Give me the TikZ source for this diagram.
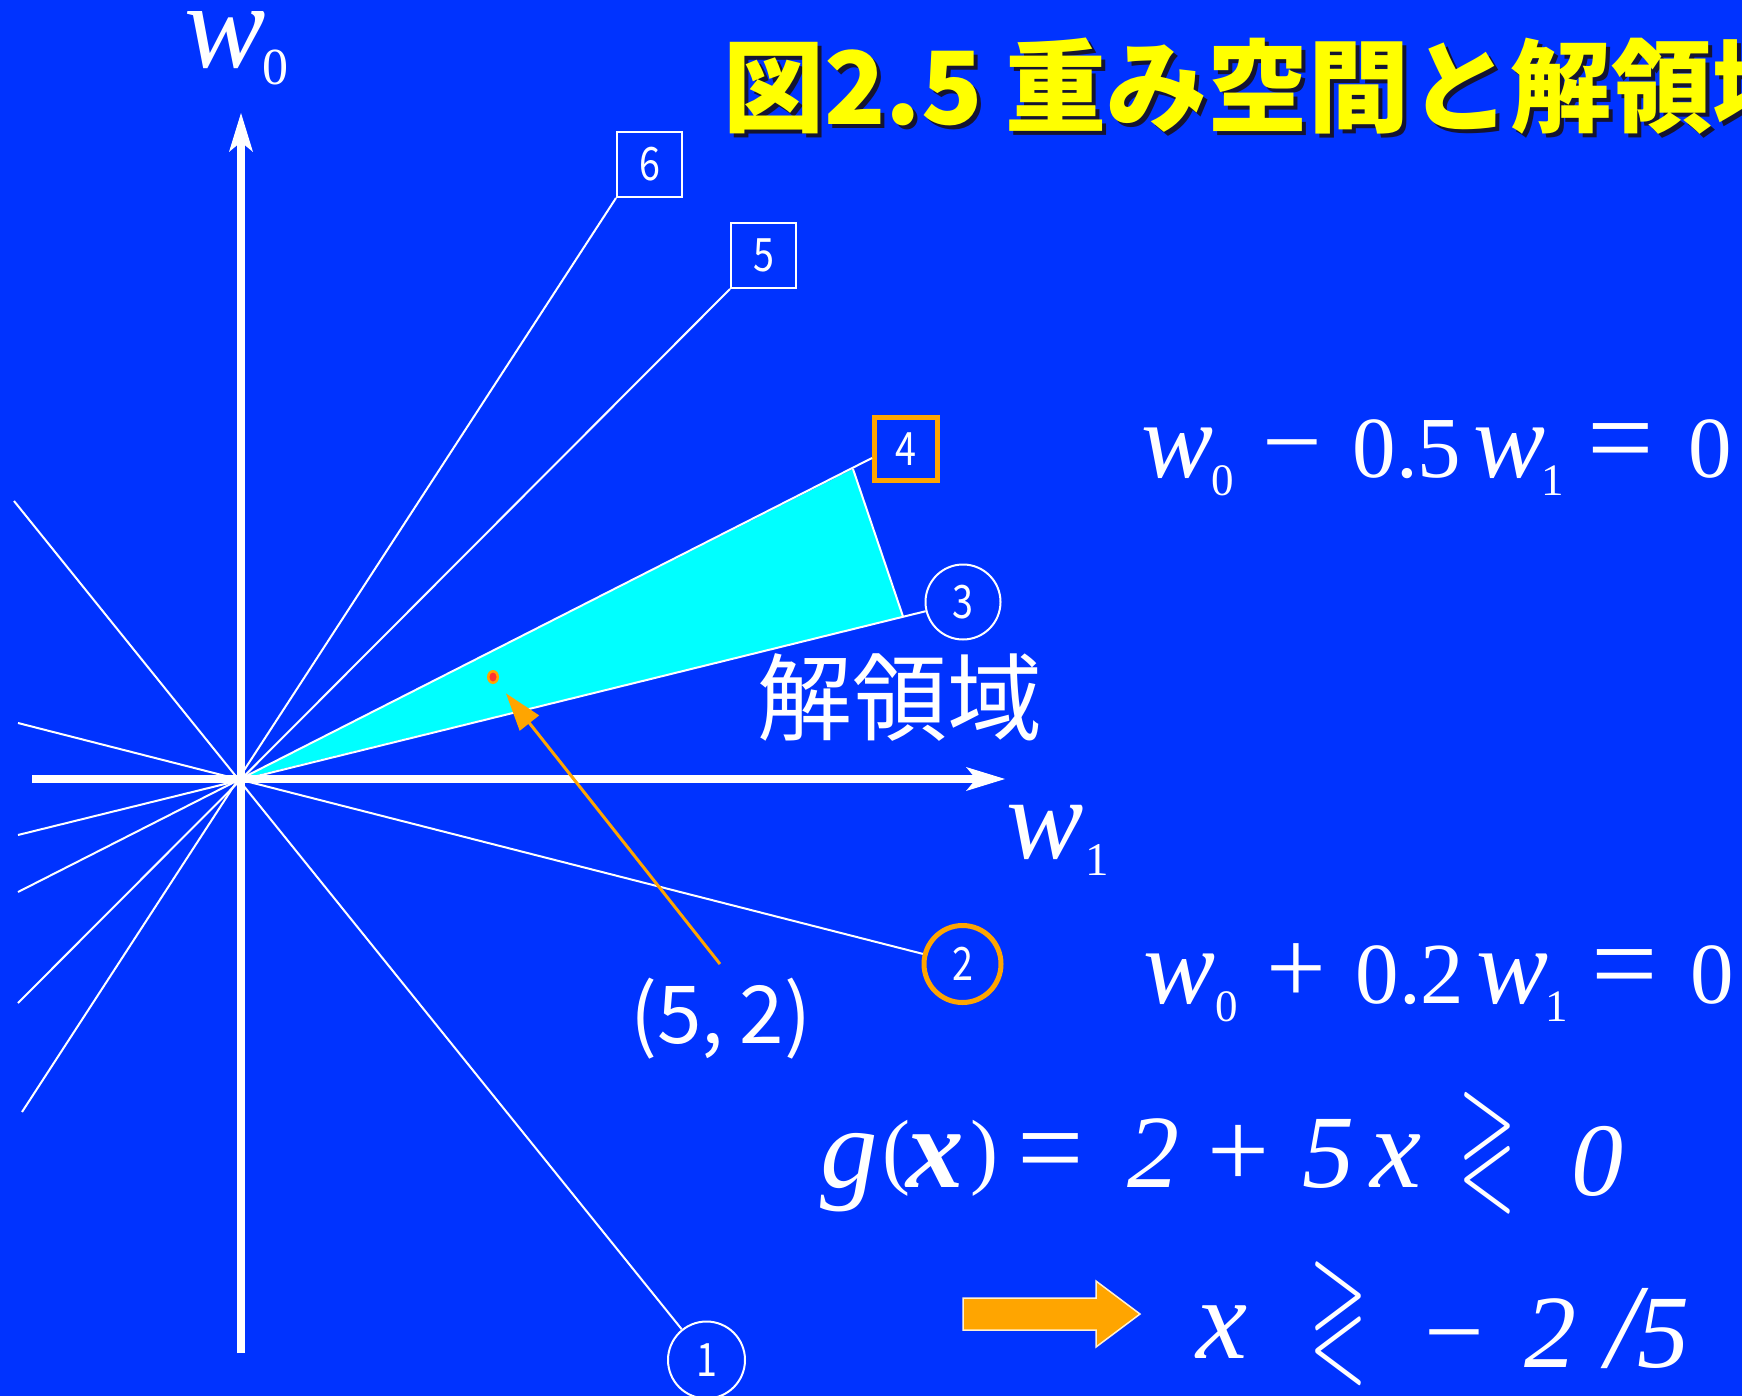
\documentclass[tikz,border=0pt]{standalone}
\usepackage{fontspec}
\usepackage{graphicx}
\usepackage{amssymb}
\setmainfont{Liberation Serif}
\newfontfamily\jpfont{Noto Sans CJK JP}
\usetikzlibrary{arrows.meta,shapes.geometric}
\definecolor{bgblue}{RGB}{0,51,255}
\definecolor{regcyan}{RGB}{0,255,255}
\definecolor{myorange}{RGB}{255,165,0}
\definecolor{titleyellow}{RGB}{255,255,0}
\definecolor{dotred}{RGB}{255,51,51}
\definecolor{shadowc}{RGB}{20,20,50}
\definecolor{arrowedge}{RGB}{255,240,210}
\newcommand{\fs}[1]{\fontsize{#1}{#1}\selectfont}
\newcommand{\putat}[2]{\makebox[0pt][l]{\hspace*{#1}#2}}
\newcommand{\lowsub}[3]{\raisebox{-#1}{\fs{#2}#3}}
\newcommand{\bigcmp}[3]{\raisebox{-#3}{\resizebox*{#1}{#2}{\raisebox{\depth}{$\gtrless$}}}}
\newcommand{\numtxt}[1]{\scalebox{0.82}[1]{#1}}
\begin{document}
\begin{tikzpicture}[x=1pt,y=-1pt,
  thinline/.style={white,line width=2pt},
  axisline/.style={white,line width=8pt,-{Stealth[length=39pt,width=24pt,inset=10pt,line width=0pt]}},
  numbox/.style={draw=white,line width=2pt,rectangle,minimum size=65pt,inner sep=0pt,text=white,font={\jpfont\fs{46}}},
  numcirc/.style={draw=white,line width=2pt,circle,minimum size=76pt,inner sep=0pt,text=white,font={\jpfont\fs{46}}},
  hilite/.style={draw=myorange,line width=5pt},
  txt/.style={inner sep=0pt,anchor=base west,text=white},
]
\useasboundingbox (0,0) rectangle (1742,1396);
\fill[bgblue] (0,0) rectangle (1742,1396);

% solution region
\coordinate (O) at (241,779);
\coordinate (C4) at (853,469);
\coordinate (C3) at (903,616.5);
\fill[regcyan] (O) -- (C4) -- (C3) -- cycle;
\draw[white, line width=2pt] (C4) -- (C3);

% labels of the lines
\node[numbox] (n6) at (649.5,164.5) {\numtxt{6}};
\node[numbox] (n5) at (763.5,255.5) {\numtxt{5}};
\node[numbox,hilite,minimum size=63pt] (n4) at (906,449) {\numtxt{4}};
\node[numcirc,minimum size=75pt] (n3) at (963,602) {\numtxt{3}};
\node[numcirc,hilite,minimum size=77pt] (n2) at (962.5,964) {\numtxt{2}};
\node[numcirc,minimum size=77pt] (n1) at (706.5,1360) {\numtxt{1}};

% lines through the origin
\coordinate (L1a) at (14,501);
\coordinate (L2a) at (18,723);
\coordinate (L3a) at (18,835);
\coordinate (L4a) at (18,892);
\coordinate (L5a) at (18,1003);
\coordinate (L6a) at (22,1112);
\draw[thinline] (L1a) -- (n1);
\draw[thinline] (L2a) -- (n2);
\draw[thinline] (L3a) -- (n3);
\draw[thinline] (L4a) -- ([yshift=-9pt]n4.west);
\draw[thinline] (L5a) -- (n5.south west);
\draw[thinline] (L6a) -- (n6.south west);

% axes
\coordinate (vbot) at (241,1353);
\coordinate (vtop) at (241,113);
\coordinate (hleft) at (32,779);
\coordinate (hright) at (1005,779);
\draw[axisline] (vbot) -- (vtop);
\draw[axisline] (hleft) -- (hright);

% axis labels
\node[txt] (w0) at (184,68) {\putat{0pt}{\fs{122}\itshape w}\putat{78pt}{\lowsub{17pt}{52}{0}}};
\node[txt] (w1) at (1006,858) {\putat{0pt}{\fs{116}\itshape w}\putat{79pt}{\lowsub{17pt}{47}{1}}};

% title
\node[anchor=base west, inner sep=0pt, text=shadowc] (titleshadow) at (727,129) {\jpfont\bfseries\fs{101}図2.5 重み空間と解領域};
\node[anchor=base west, inner sep=0pt, text=titleyellow] (title) at (723,125) {\jpfont\bfseries\fs{101}図2.5 重み空間と解領域};

% region label
\node[txt] (region) at (757,733) {\jpfont\fs{95}解領域};

% point (5,2)
\node[ellipse, fill=myorange, minimum width=12pt, minimum height=14pt, inner sep=0pt] (dot) at (493,677) {};
\fill[dotred] (dot.center) ellipse [x radius=3.5pt, y radius=4.5pt];
\node[txt] (p52) at (630,1043) {\jpfont\fs{80}(5,\hspace{16pt}2)};
\coordinate (tail) at (720,964);
\draw[myorange, line width=3pt, -{Triangle[length=38pt,width=24pt]}, shorten >=14pt] (tail) -- (dot);

% equations of the boundary lines
\node[txt] (eq1) at (1141,477) {\putat{0pt}{\fs{108}\itshape w}\putat{70pt}{\lowsub{18pt}{45}{0}}\putat{121pt}{\fs{106}−}\putat{211pt}{\fs{87}0.5}\putat{332pt}{\fs{108}\itshape w}\putat{400pt}{\lowsub{18pt}{45}{1}}\putat{446pt}{\fs{118}=}\putat{547pt}{\fs{87}0}};
\node[txt] (eq2) at (1143,1003) {\putat{0pt}{\fs{108}\itshape w}\putat{72pt}{\lowsub{18pt}{45}{0}}\putat{123pt}{\fs{106}+}\putat{212pt}{\fs{87}0.2}\putat{333pt}{\fs{108}\itshape w}\putat{402pt}{\lowsub{18pt}{45}{1}}\putat{448pt}{\fs{118}=}\putat{547pt}{\fs{87}0}};

% g(x)
\node[txt] (gA) at (820,1187) {\putat{0pt}{\fs{115}\itshape g}\putat{62pt}{\raisebox{9pt}{\fs{84}(}}\putat{86pt}{\fs{115}\bfseries\itshape x}\putat{150pt}{\raisebox{9pt}{\fs{84})}}\putat{197pt}{\fs{118}=}\putat{307pt}{\fs{104}\itshape 2}\putat{387pt}{\fs{110}+}\putat{482pt}{\fs{104}\itshape 5}\putat{550pt}{\fs{115}\itshape x}\putat{638pt}{\bigcmp{58pt}{112pt}{18pt}}\putat{751pt}{\raisebox{-8pt}{\fs{104}\itshape 0}}};

% implication arrow
\filldraw[fill=myorange, draw=arrowedge, line width=1.5pt] (963,1298) -- (1096,1298) -- (1096,1281) -- (1140,1314) -- (1096,1347) -- (1096,1330) -- (963,1330) -- cycle;
\node[txt] (gB) at (1196,1367) {\putat{0pt}{\raisebox{9pt}{\fs{115}\itshape x}}\putat{113pt}{\bigcmp{58pt}{114pt}{10pt}}\putat{228pt}{\fs{106}−}\putat{328pt}{\fs{104}\itshape 2}\putat{410pt}{\fs{120}\itshape /}\putat{441pt}{\fs{104}\itshape 5}};
\end{tikzpicture}
\end{document}
